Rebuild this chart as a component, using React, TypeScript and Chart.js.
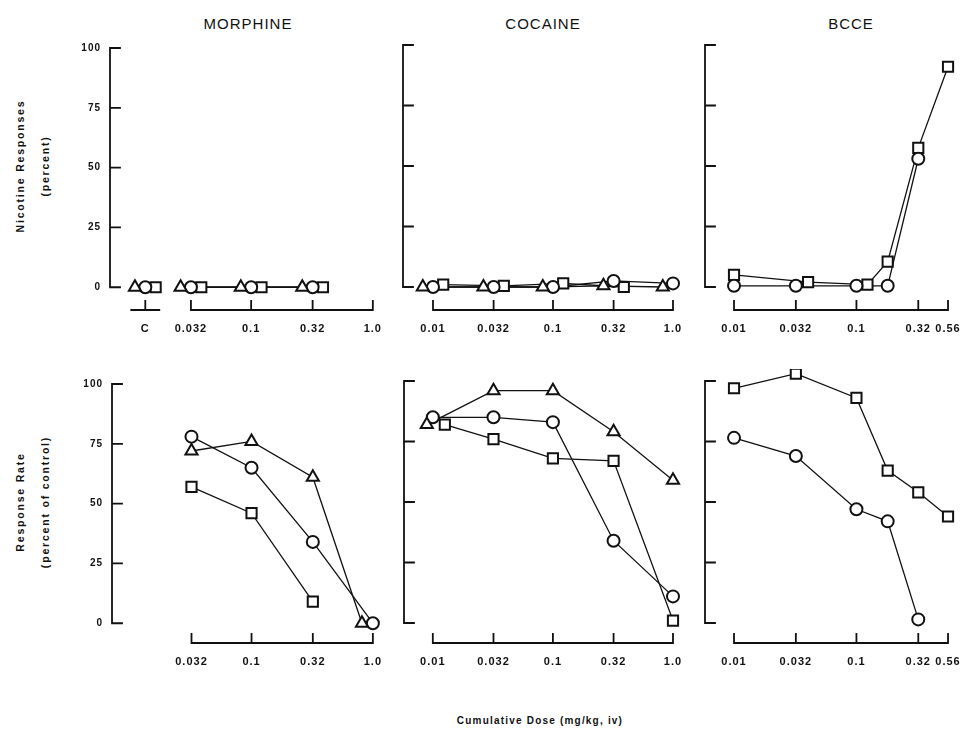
import React, { useEffect, useRef } from 'react';
import { Chart, registerables } from 'chart.js';
Chart.register(...registerables);

// ---------------- DATA ----------------
const PANEL_TITLES = ['MORPHINE', 'COCAINE', 'BCCE'];
const Y_TICKS = [0, 25, 50, 75, 100];
const ROW_TITLES = ['Nicotine Responses', 'Response Rate'];
const ROW_SUBTITLES = ['(percent)', '(percent of control)'];
const X_TITLE = 'Cumulative Dose (mg/kg, iv)';

const CONTROL_LABEL = 'C';
const MORPHINE_DOSES = [0.032, 0.1, 0.32, 1.0];
const MORPHINE_TICK_LABELS = ['0.032', '0.1', '0.32', '1.0'];
const COCAINE_DOSES = [0.01, 0.032, 0.1, 0.32, 1.0];
const COCAINE_TICK_LABELS = ['0.01', '0.032', '0.1', '0.32', '1.0'];
const BCCE_DOSES = [0.01, 0.032, 0.1, 0.18, 0.32, 0.56];
const BCCE_TICK_DOSES = [0.01, 0.032, 0.1, 0.32, 0.56];
const BCCE_TICK_LABELS = ['0.01', '0.032', '0.1', '0.32', '0.56'];

// Nicotine-appropriate responses (percent) — top row
const MOR_NIC_CTRL_TRI = [0];
const MOR_NIC_CTRL_CIRC = [0];
const MOR_NIC_CTRL_SQ = [0];
const MOR_NIC_TRI = [0, 0, 0, null];
const MOR_NIC_CIRC = [0, 0, 0, null];
const MOR_NIC_SQ = [0, 0, 0, null];
const COC_NIC_TRI = [0, 0, 0, 0.5, 0];
const COC_NIC_CIRC = [0, 0, 0, 2.5, 1.5];
const COC_NIC_SQ = [1, 0.5, 1.5, 0, null];
const BCCE_NIC_CIRC = [0.5, 0.5, 0.5, 0.5, 53, null];
const BCCE_NIC_SQ = [5, 2, 1, 10.5, 57.5, 91];

// Response rate (percent of control) — bottom row
const MOR_RATE_TRI = [72, 76, 61, 0];
const MOR_RATE_CIRC = [78, 65, 34, 0];
const MOR_RATE_SQ = [57, 46, 9, null];
const COC_RATE_TRI = [82, 96, 96, 79, 59];
const COC_RATE_CIRC = [85, 85, 83, 34, 11];
const COC_RATE_SQ = [82, 76, 68, 67, 1];
const BCCE_RATE_CIRC = [76.5, 69, 47, 42, 1.5, null];
const BCCE_RATE_SQ = [97, 103, 93, 63, 54, 44];

// ---------------- STYLE / LAYOUT ----------------
// small horizontal side-by-side offsets (log10 units) so coincident symbols do not hide each other
const SIDE = 0.085;
const DODGE_MOR_NIC_TRI = [-SIDE, -SIDE, -SIDE, -SIDE];
const DODGE_MOR_NIC_SQ = [SIDE, SIDE, SIDE, SIDE];
const DODGE_COC_NIC_TRI = [-SIDE, -SIDE, -SIDE, -SIDE, -SIDE];
const DODGE_COC_NIC_SQ = [SIDE, SIDE, SIDE, SIDE, SIDE];
const DODGE_BCCE_NIC_SQ = [0, 0.1, 0.09, 0, 0, 0];
const DODGE_MOR_RATE_TRI = [0, 0, 0, -0.09];
const DODGE_COC_RATE_TRI = [-0.05, 0, 0, 0, 0];
const DODGE_COC_RATE_SQ = [0.1, 0, 0, 0, 0];
const CONTROL_POS = -1.87; // log10 axis position of the control "C"

const FONT = '"Liberation Sans", Arial, Helvetica, sans-serif';
const INK = '#111';
const YW = 45;
const XH = 40;
const PADT = 12;
const PADR = 12;

type Pt = { x: number; y: number };
type Marker = 'tri' | 'circ' | 'sq';
type Series = { marker: Marker; points: Pt[]; line: boolean };
type Panel = {
  area: { left: number; top: number; right: number; bottom: number };
  xMin: number; xMax: number; yMin: number; yMax: number;
  tickPos: number[]; tickLabels: string[]; brackets: number[][];
  showYLabels: boolean; series: Series[];
};

const MARKERS: Record<Marker, { style: string; r: number }> = {
  tri: { style: 'triangle', r: 7 },
  circ: { style: 'circle', r: 6 },
  sq: { style: 'rect', r: 7.2 },
};

const lg = (d: number) => Math.log10(d);

function pts(doses: number[], values: (number | null)[], dodge?: number[]): Pt[] {
  const out: Pt[] = [];
  doses.forEach((d, i) => {
    const v = values[i];
    if (v === null || v === undefined) return;
    out.push({ x: lg(d) + (dodge ? dodge[i] : 0), y: v });
  });
  return out;
}
function ctrl(values: number[], dodge: number): Pt[] {
  return values.map((v) => ({ x: CONTROL_POS + dodge, y: v }));
}

const TOP = { top: 45, bottom: 310, yMin: -9.5 };
const BOT = { top: 381, bottom: 643, yMin: -8.26 };

const PANELS: Panel[] = [
  {
    area: { left: 110, top: TOP.top, right: 385, bottom: TOP.bottom },
    xMin: -2.16, xMax: 0.1, yMin: TOP.yMin, yMax: 100,
    tickPos: [CONTROL_POS, ...MORPHINE_DOSES.map(lg)],
    tickLabels: [CONTROL_LABEL, ...MORPHINE_TICK_LABELS],
    brackets: [[CONTROL_POS], MORPHINE_DOSES.map(lg)],
    showYLabels: true,
    series: [
      { marker: 'tri', points: ctrl(MOR_NIC_CTRL_TRI, -SIDE), line: false },
      { marker: 'circ', points: ctrl(MOR_NIC_CTRL_CIRC, 0), line: false },
      { marker: 'sq', points: ctrl(MOR_NIC_CTRL_SQ, SIDE), line: false },
      { marker: 'tri', points: pts(MORPHINE_DOSES, MOR_NIC_TRI, DODGE_MOR_NIC_TRI), line: true },
      { marker: 'circ', points: pts(MORPHINE_DOSES, MOR_NIC_CIRC), line: true },
      { marker: 'sq', points: pts(MORPHINE_DOSES, MOR_NIC_SQ, DODGE_MOR_NIC_SQ), line: true },
    ],
  },
  {
    area: { left: 403, top: TOP.top, right: 685, bottom: TOP.bottom },
    xMin: -2.25, xMax: 0.1, yMin: TOP.yMin, yMax: 100,
    tickPos: COCAINE_DOSES.map(lg), tickLabels: COCAINE_TICK_LABELS,
    brackets: [COCAINE_DOSES.map(lg)], showYLabels: false,
    series: [
      { marker: 'tri', points: pts(COCAINE_DOSES, COC_NIC_TRI, DODGE_COC_NIC_TRI), line: true },
      { marker: 'circ', points: pts(COCAINE_DOSES, COC_NIC_CIRC), line: true },
      { marker: 'sq', points: pts(COCAINE_DOSES, COC_NIC_SQ, DODGE_COC_NIC_SQ), line: true },
    ],
  },
  {
    area: { left: 705, top: TOP.top, right: 960, bottom: TOP.bottom },
    xMin: -2.237, xMax: -0.154, yMin: TOP.yMin, yMax: 100,
    tickPos: BCCE_TICK_DOSES.map(lg), tickLabels: BCCE_TICK_LABELS,
    brackets: [BCCE_TICK_DOSES.map(lg)], showYLabels: false,
    series: [
      { marker: 'circ', points: pts(BCCE_DOSES, BCCE_NIC_CIRC), line: true },
      { marker: 'sq', points: pts(BCCE_DOSES, BCCE_NIC_SQ, DODGE_BCCE_NIC_SQ), line: true },
    ],
  },
  {
    area: { left: 112, top: BOT.top, right: 385, bottom: BOT.bottom },
    xMin: -2.15, xMax: 0.1, yMin: BOT.yMin, yMax: 100,
    tickPos: MORPHINE_DOSES.map(lg), tickLabels: MORPHINE_TICK_LABELS,
    brackets: [MORPHINE_DOSES.map(lg)], showYLabels: true,
    series: [
      { marker: 'tri', points: pts(MORPHINE_DOSES, MOR_RATE_TRI, DODGE_MOR_RATE_TRI), line: true },
      { marker: 'circ', points: pts(MORPHINE_DOSES, MOR_RATE_CIRC), line: true },
      { marker: 'sq', points: pts(MORPHINE_DOSES, MOR_RATE_SQ), line: true },
    ],
  },
  {
    area: { left: 404, top: BOT.top, right: 685, bottom: BOT.bottom },
    xMin: -2.24, xMax: 0.1, yMin: BOT.yMin, yMax: 100,
    tickPos: COCAINE_DOSES.map(lg), tickLabels: COCAINE_TICK_LABELS,
    brackets: [COCAINE_DOSES.map(lg)], showYLabels: false,
    series: [
      { marker: 'tri', points: pts(COCAINE_DOSES, COC_RATE_TRI, DODGE_COC_RATE_TRI), line: true },
      { marker: 'circ', points: pts(COCAINE_DOSES, COC_RATE_CIRC), line: true },
      { marker: 'sq', points: pts(COCAINE_DOSES, COC_RATE_SQ, DODGE_COC_RATE_SQ), line: true },
    ],
  },
  {
    area: { left: 705, top: BOT.top, right: 960, bottom: BOT.bottom },
    xMin: -2.237, xMax: -0.154, yMin: BOT.yMin, yMax: 100,
    tickPos: BCCE_TICK_DOSES.map(lg), tickLabels: BCCE_TICK_LABELS,
    brackets: [BCCE_TICK_DOSES.map(lg)], showYLabels: false,
    series: [
      { marker: 'circ', points: pts(BCCE_DOSES, BCCE_RATE_CIRC), line: true },
      { marker: 'sq', points: pts(BCCE_DOSES, BCCE_RATE_SQ), line: true },
    ],
  },
];

function axesPlugin(panel: Panel) {
  return {
    id: 'bracketAxes',
    beforeDraw(chart: any) {
      try { chart.ctx.letterSpacing = '1px'; } catch (e) { /* ignore */ }
    },
    beforeDatasetsDraw(chart: any) {
      const { ctx, chartArea, scales } = chart;
      const x = scales.x, y = scales.y;
      ctx.save();
      ctx.strokeStyle = INK;
      ctx.lineWidth = 1.8;
      ctx.lineCap = 'square';
      const x0 = chartArea.left;
      const yTop = y.getPixelForValue(100);
      const yBot = y.getPixelForValue(0);
      ctx.beginPath();
      ctx.moveTo(x0, yTop);
      ctx.lineTo(x0, yBot);
      Y_TICKS.forEach((v) => {
        const py = y.getPixelForValue(v);
        ctx.moveTo(x0, py);
        ctx.lineTo(x0 + 10, py);
      });
      const by = chartArea.bottom;
      panel.brackets.forEach((g) => {
        const pxs = g.map((v) => x.getPixelForValue(v));
        if (pxs.length === 1) {
          ctx.moveTo(pxs[0] - 14, by);
          ctx.lineTo(pxs[0] + 14, by);
        } else {
          ctx.moveTo(pxs[0], by);
          ctx.lineTo(pxs[pxs.length - 1], by);
        }
        pxs.forEach((p) => {
          ctx.moveTo(p, by);
          ctx.lineTo(p, by - 9);
        });
      });
      ctx.stroke();
      ctx.restore();
    },
  };
}

function PanelChart({ panel }: { panel: Panel }) {
  const ref = useRef<HTMLCanvasElement | null>(null);
  const { area } = panel;
  const left = area.left - YW;
  const top = area.top - PADT;
  const width = area.right - area.left + YW + PADR;
  const height = area.bottom - area.top + PADT + XH;

  useEffect(() => {
    if (!ref.current) return;
    const datasets: any[] = [];
    panel.series.forEach((s) => {
      if (s.line) {
        datasets.push({
          data: s.points, showLine: true, pointRadius: 0, borderColor: INK,
          borderWidth: 1.3, order: 2, clip: false,
        });
      }
      const m = MARKERS[s.marker];
      datasets.push({
        data: s.points, showLine: false, pointStyle: m.style, pointRadius: m.r,
        pointBorderWidth: 2, pointBackgroundColor: '#fff', pointBorderColor: INK,
        order: 1, clip: false,
      });
    });
    const chart = new Chart(ref.current, {
      type: 'scatter',
      data: { datasets },
      options: {
        animation: false,
        responsive: false,
        maintainAspectRatio: false,
        layout: { padding: { top: PADT, right: PADR, left: 0, bottom: 0 } },
        plugins: { legend: { display: false }, tooltip: { enabled: false } },
        scales: {
          x: {
            type: 'linear', min: panel.xMin, max: panel.xMax,
            grid: { display: false, drawTicks: false }, border: { display: false },
            afterBuildTicks: (s: any) => { s.ticks = panel.tickPos.map((v) => ({ value: v })); },
            afterFit: (s: any) => { s.height = XH; },
            ticks: {
              autoSkip: false, maxRotation: 0, minRotation: 0, padding: 12, color: INK,
              font: { family: FONT, size: 11, weight: 'bold' },
              callback: (_v: any, i: number) => panel.tickLabels[i],
            },
          },
          y: {
            type: 'linear', min: panel.yMin, max: panel.yMax,
            grid: { display: false, drawTicks: false }, border: { display: false },
            afterBuildTicks: (s: any) => { s.ticks = Y_TICKS.map((v) => ({ value: v })); },
            afterFit: (s: any) => { s.width = YW; },
            ticks: {
              display: panel.showYLabels, padding: 9, color: INK,
              font: { family: FONT, size: 10, weight: 'bold' },
            },
          },
        },
      } as any,
      plugins: [axesPlugin(panel)],
    });
    return () => chart.destroy();
  }, [panel]);

  return (
    <canvas
      ref={ref}
      width={width}
      height={height}
      style={{ position: 'absolute', left, top, width, height }}
    />
  );
}

const TITLE_X = [248, 543, 851];
const ROW_Y = [166, 502];

export default function App() {
  const rot = (cx: number, cy: number, text: string, key: string) => (
    <div
      key={key}
      style={{
        position: 'absolute', left: cx, top: cy, transform: 'translate(-50%, -50%) rotate(-90deg)',
        whiteSpace: 'nowrap', fontFamily: FONT, fontSize: 10.5, fontWeight: 'bold',
        letterSpacing: '1.8px', color: INK, lineHeight: '12px',
      }}
    >
      {text}
    </div>
  );
  return (
    <div style={{ position: 'absolute', left: 0, top: 0, width: 974, height: 731, background: '#fff', overflow: 'hidden' }}>
      {PANEL_TITLES.map((t, i) => (
        <div
          key={t}
          style={{
            position: 'absolute', left: TITLE_X[i], top: 23, transform: 'translate(-50%, -50%)',
            fontFamily: FONT, fontSize: 15, color: INK, letterSpacing: '1px', whiteSpace: 'nowrap',
          }}
        >
          {t}
        </div>
      ))}
      {rot(20, ROW_Y[0], ROW_TITLES[0], 'r0')}
      {rot(45, ROW_Y[0], ROW_SUBTITLES[0], 's0')}
      {rot(20, ROW_Y[1], ROW_TITLES[1], 'r1')}
      {rot(45, ROW_Y[1], ROW_SUBTITLES[1], 's1')}
      {PANELS.map((p, i) => (
        <PanelChart key={i} panel={p} />
      ))}
      <div
        style={{
          position: 'absolute', left: 540, top: 720, transform: 'translate(-50%, -50%)',
          fontFamily: FONT, fontSize: 10, fontWeight: 'bold', letterSpacing: '1.2px', color: INK, whiteSpace: 'nowrap',
        }}
      >
        {X_TITLE}
      </div>
    </div>
  );
}
